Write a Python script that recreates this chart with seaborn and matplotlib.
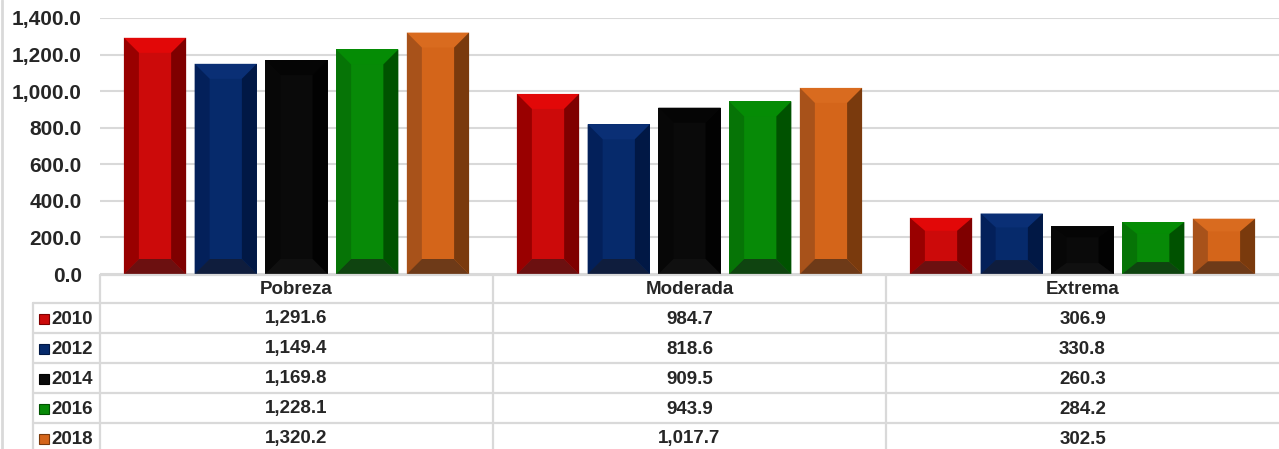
import pandas as pd
import numpy as np
import matplotlib
matplotlib.use('Agg')
import matplotlib.pyplot as plt
from matplotlib.patches import Polygon
from matplotlib.lines import Line2D
import seaborn as sns

# data
categorias = ['Pobreza', 'Moderada', 'Extrema']
anios = ['2010', '2012', '2014', '2016', '2018']
v2010 = [1291.6, 984.7, 306.9]
v2012 = [1149.4, 818.6, 330.8]
v2014 = [1169.8, 909.5, 260.3]
v2016 = [1228.1, 943.9, 284.2]
v2018 = [1320.2, 1017.7, 302.5]
valores = [v2010, v2012, v2014, v2016, v2018]
yticks = [0, 200, 400, 600, 800, 1000, 1200, 1400]

# face, top, left, right, bottom
colores = {
    '2010': ['#CC0A0A', '#E20808', '#990000', '#7F0000', '#6C1010'],
    '2012': ['#062A6B', '#0A2F75', '#03205A', '#011845', '#0F1D3D'],
    '2014': ['#0A0A0A', '#050505', '#070707', '#020202', '#101010'],
    '2016': ['#078A07', '#058C05', '#067406', '#005200', '#0F4410'],
    '2018': ['#D4651A', '#D96B1F', '#A8521A', '#7A3A0D', '#6E3A18'],
}

rows = []
for a, vals in zip(anios, valores):
    for c, v in zip(categorias, vals):
        rows.append({'cat': c, 'anio': a, 'valor': v})
df = pd.DataFrame(rows)

sns.set_style('white')
plt.rcParams['font.family'] = ['Liberation Sans', 'DejaVu Sans']
plt.rcParams['font.weight'] = 'bold'

W, H = 1279, 449
fig = plt.figure(figsize=(W / 100, H / 100), dpi=100)
ax_left = 100 / W
ax_bottom = (H - 274) / H
ax_top = (H - 18) / H
ax = fig.add_axes([ax_left, ax_bottom, 1 - ax_left, ax_top - ax_bottom])

sns.barplot(data=df, x='cat', y='valor', hue='anio', order=categorias,
            hue_order=anios, palette=[colores[a][0] for a in anios],
            width=0.9, gap=0.12, saturation=1, linewidth=0, ax=ax, legend=False)

ax.set_xlim(-0.5, 2.5)
ax.set_ylim(0, 1400)
ax.set_yticks(yticks)
ax.set_yticklabels(['{:,.1f}'.format(t) for t in yticks], fontsize=15, fontweight='bold')
ax.set_xticks([])
ax.set_xlabel('')
ax.set_ylabel('')
ax.tick_params(axis='y', length=0, pad=13)
ax.grid(axis='y', color='#D9D9D9', linewidth=1.5)
ax.set_axisbelow(True)
for s in ax.spines.values():
    s.set_visible(False)

# bevel effect on each bar
px_x = 3.0 / (W * (1 - ax_left))
px_y = 1400 / 256.0
for i, a in enumerate(anios):
    cface, ctop, cleft, cright, cbot = colores[a]
    for p in ax.containers[i]:
        x0 = p.get_x()
        x1 = x0 + p.get_width()
        h = p.get_height()
        bx = 15 * px_x
        by = min(15 * px_y, 0.23 * h)
        y0, y1 = 0, h
        shapes = [
            ([(x0, y1), (x1, y1), (x1 - bx, y1 - by), (x0 + bx, y1 - by)], ctop),
            ([(x0, y0), (x0, y1), (x0 + bx, y1 - by), (x0 + bx, y0 + by)], cleft),
            ([(x1, y0), (x1, y1), (x1 - bx, y1 - by), (x1 - bx, y0 + by)], cright),
            ([(x0, y0), (x1, y0), (x1 - bx, y0 + by), (x0 + bx, y0 + by)], cbot),
        ]
        for pts, col in shapes:
            ax.add_patch(Polygon(pts, closed=True, facecolor=col, edgecolor='none', zorder=3))

# data table below the bars
tab = fig.add_axes([ax_left, 0, 1 - ax_left, ax_bottom])
tab.set_xlim(-0.5, 2.5)
tab.set_ylim(H, 274)
tab.axis('off')
gc = '#D9D9D9'
lw = 1.6
x_lab = (33 - 100) / 393.0 - 0.5
tab.plot([-0.5, 2.5], [275, 275], color=gc, lw=lw, clip_on=False)
for xv in [-0.5, 0.5, 1.5]:
    tab.plot([xv, xv], [275, H], color=gc, lw=lw, clip_on=False)
tab.plot([x_lab, x_lab], [303, H], color=gc, lw=lw, clip_on=False)
for j in range(len(anios)):
    yl = 303 + 30 * j
    tab.plot([x_lab, 2.5], [yl, yl], color=gc, lw=lw, clip_on=False)

fs = 13.5
for k, c in enumerate(categorias):
    tab.text(k, 290, c, ha='center', va='center', fontsize=fs, fontweight='bold')
for j, a in enumerate(anios):
    yc = 319 + 30 * j
    tab.plot([x_lab + 11 / 393.0], [yc], marker='s', markersize=7,
             markerfacecolor=colores[a][0], markeredgecolor=colores[a][3],
             markeredgewidth=0.8, clip_on=False)
    tab.text(x_lab + 18 / 393.0, yc, a, ha='left', va='center',
             fontsize=fs, fontweight='bold', clip_on=False)
    for k, v in enumerate(valores[j]):
        tab.text(k, yc, '{:,.1f}'.format(v), ha='center', va='center',
                 fontsize=fs, fontweight='bold')

# thin border on the left edge of the image
fig.add_artist(Line2D([2 / W, 2 / W], [0, 1], color=gc, lw=2, transform=fig.transFigure))

fig.savefig('out.png', dpi=100)
